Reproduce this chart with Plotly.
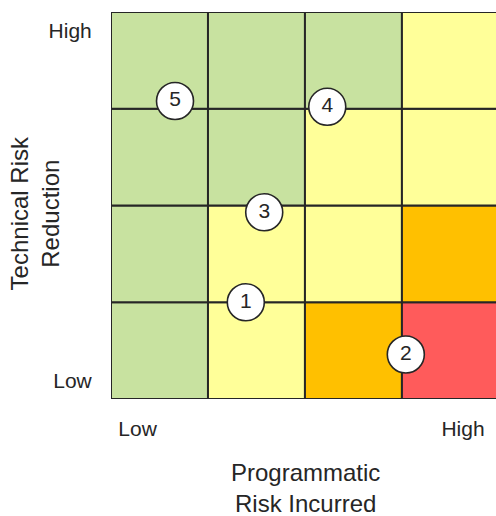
import plotly.graph_objects as go

# Risk matrix: rows from bottom (Low technical risk reduction) to top (High)
# columns from left (Low programmatic risk) to right (High)
risk_rows = [
    ["green", "yellow", "orange", "red"],     # bottom row
    ["green", "yellow", "yellow", "orange"],
    ["green", "green", "yellow", "yellow"],
    ["green", "green", "green", "yellow"],    # top row
]
cell_colors = {"green": "#C8E2A0", "yellow": "#FFFF99", "orange": "#FFC000", "red": "#FF5B5B"}

# Numbered items (x = programmatic risk, y = technical risk reduction)
item_labels = ["1", "2", "3", "4", "5"]
item_x = [1.39, 3.04, 1.58, 2.23, 0.66]
item_y = [1.00, 0.46, 1.93, 3.02, 3.08]

x_tick_vals = [0.274, 3.63]
x_tick_text = ["Low", "High"]
y_tick_vals = [0.19, 3.81]
y_tick_text = ["Low", "High"]

fig = go.Figure()

shapes = []
for r, row in enumerate(risk_rows):
    for c, key in enumerate(row):
        shapes.append(dict(
            type="rect", xref="x", yref="y",
            x0=c, x1=c + 1, y0=r, y1=r + 1,
            fillcolor=cell_colors[key],
            line=dict(color="#262626", width=2),
            layer="below",
        ))

font_family = "Liberation Sans, Arial, sans-serif"

fig.add_trace(go.Scatter(
    x=item_x, y=item_y, text=item_labels,
    mode="markers+text", textposition="middle center",
    marker=dict(size=37, color="white", line=dict(color="#262626", width=1.6)),
    textfont=dict(family=font_family, size=21, color="#262626"),
    hoverinfo="skip", showlegend=False,
))

fig.update_layout(
    width=496, height=516,
    margin=dict(l=111, r=0, t=12, b=117),
    plot_bgcolor="white", paper_bgcolor="white",
    shapes=shapes,
    showlegend=False,
    font=dict(family=font_family, color="#262626"),
    xaxis=dict(
        range=[0, 3.97], showgrid=False, zeroline=False,
        tickvals=x_tick_vals, ticktext=x_tick_text,
        ticks="outside", ticklen=11, tickcolor="rgba(0,0,0,0)",
        tickfont=dict(size=21, family=font_family, color="#262626"),
        fixedrange=True,
    ),
    yaxis=dict(
        range=[0, 4], showgrid=False, zeroline=False,
        tickvals=y_tick_vals, ticktext=y_tick_text,
        ticks="outside", ticklen=14, tickcolor="rgba(0,0,0,0)",
        tickfont=dict(size=21, family=font_family, color="#262626"),
        fixedrange=True,
    ),
    annotations=[
        dict(text="Technical Risk<br>Reduction", xref="paper", yref="paper",
             x=-0.197, y=0.48, xanchor="center", yanchor="middle",
             textangle=-90, showarrow=False,
             font=dict(size=24, family=font_family, color="#262626")),
        dict(text="Programmatic<br>Risk Incurred", xref="paper", yref="paper",
             x=0.504, y=-0.23, xanchor="center", yanchor="middle",
             showarrow=False,
             font=dict(size=24, family=font_family, color="#262626")),
    ],
)

fig.write_html(
    "out.html",
    config={"responsive": False, "displayModeBar": False},
    post_script="document.body.style.margin='0';document.body.style.overflow='hidden';",
)
